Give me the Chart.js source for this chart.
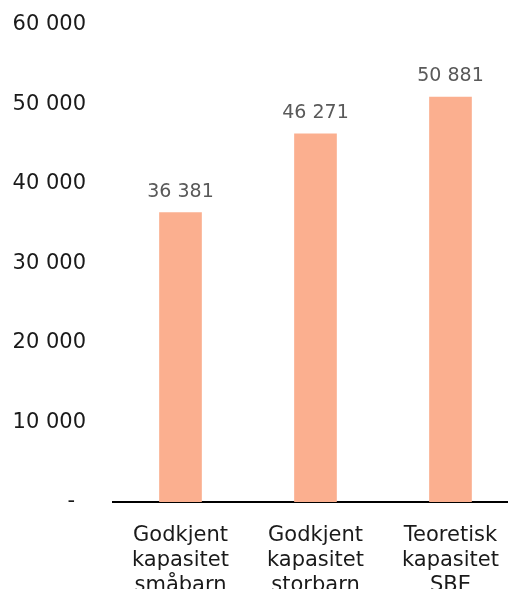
<!DOCTYPE html>
<html>
<head>
<meta charset="utf-8">
<script src="https://cdn.jsdelivr.net/npm/chart.js@4"></script>
<style>
  html, body { margin: 0; padding: 0; background: #fff; overflow: hidden; }
  #wrap { width: 520px; height: 617px; position: relative; margin-top: -15px; }
</style>
</head>
<body>
<div id="wrap"><canvas id="chart"></canvas></div>
<script>
const categories = [
  ["Godkjent", "kapasitet", "småbarn"],
  ["Godkjent", "kapasitet", "storbarn"],
  ["Teoretisk", "kapasitet", "SBE"]
];
const values = [36381, 46271, 50881];
const yTicks = [0, 10000, 20000, 30000, 40000, 50000, 60000];

const FONT = "'DejaVu Sans', sans-serif";

function fmt(v) {
  if (v === 0) return "- \u2009";
  return String(v).replace(/\B(?=(\d{3})+(?!\d))/g, " ");
}

const valueLabels = {
  id: "valueLabels",
  afterDatasetsDraw(chart) {
    const ctx = chart.ctx;
    const meta = chart.getDatasetMeta(0);
    ctx.save();
    ctx.font = "19px " + FONT;
    ctx.fillStyle = "#595959";
    ctx.textAlign = "center";
    ctx.textBaseline = "alphabetic";
    meta.data.forEach((bar, i) => {
      ctx.fillText(fmt(values[i]), bar.x, bar.y - 16);
    });
    ctx.restore();
  }
};

new Chart(document.getElementById("chart"), {
  type: "bar",
  data: {
    labels: categories,
    datasets: [{
      data: values,
      backgroundColor: "#fbaf8f",
      barThickness: 42
    }]
  },
  options: {
    responsive: true,
    maintainAspectRatio: false,
    animation: false,
    layout: { padding: { top: 0, left: 0, right: 0, bottom: 0 } },
    plugins: { legend: { display: false }, tooltip: { enabled: false } },
    scales: {
      x: {
        afterFit(axis) { axis.height = 100; },
        grid: { display: false, drawTicks: false },
        border: { display: true, color: "#000", width: 2 },
        ticks: {
          color: "#1a1a1a",
          font: { family: FONT, size: 21, lineHeight: 1.2 },
          padding: 21,
          maxRotation: 0
        }
      },
      y: {
        min: 0,
        max: 60000,
        afterFit(axis) { axis.width = 113; },
        afterBuildTicks(axis) { axis.ticks = yTicks.map(v => ({ value: v })); },
        grid: { display: false, drawTicks: false },
        border: { display: false },
        ticks: {
          color: "#1a1a1a",
          font: { family: FONT, size: 21 },
          padding: 27,
          callback: v => fmt(v)
        }
      }
    }
  },
  plugins: [valueLabels]
});
</script>
</body>
</html>
